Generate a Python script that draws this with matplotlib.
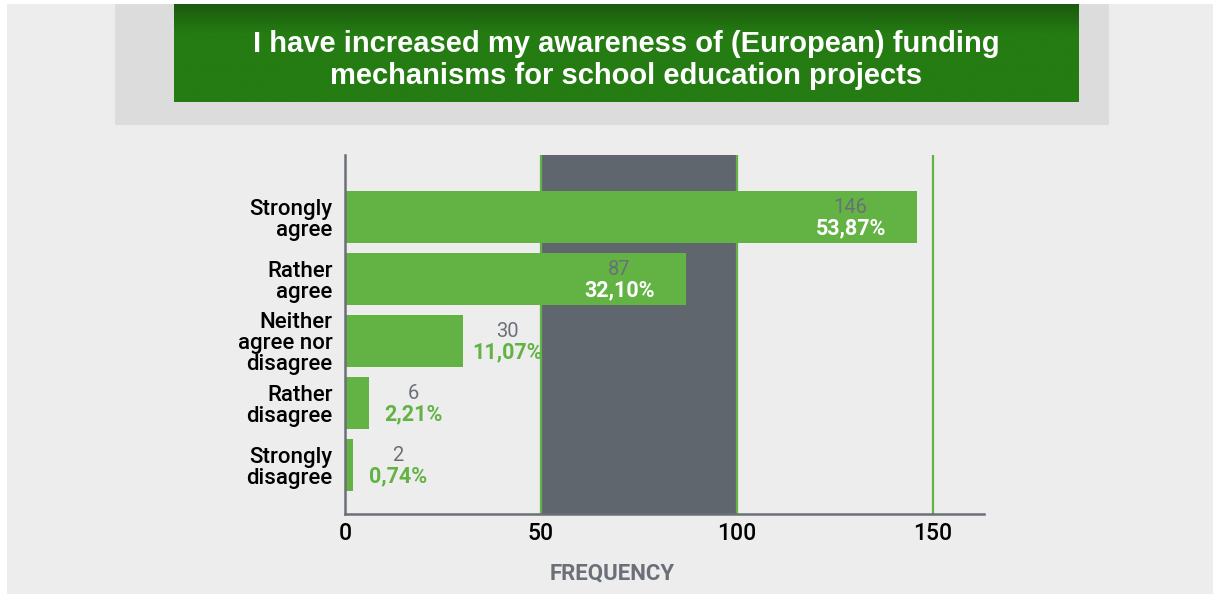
import numpy as np
import matplotlib
matplotlib.use('Agg')
import matplotlib.pyplot as plt
from matplotlib.patches import Rectangle

plt.rcParams['font.family'] = ['Roboto', 'DejaVu Sans']

# data
categories = ['Strongly\nagree', 'Rather\nagree', 'Neither\nagree nor\ndisagree',
              'Rather\ndisagree', 'Strongly\ndisagree']
counts = [146, 87, 30, 6, 2]
percents = ['53,87%', '32,10%', '11,07%', '2,21%', '0,74%']
xticks = [0, 50, 100, 150]
title = 'I have increased my awareness of (European) funding\nmechanisms for school education projects'

green = '#62b344'
grey = '#6b7078'
band = '#5f666d'

W, H = 1213, 594
fig = plt.figure(figsize=(W / 100, H / 100), dpi=100, facecolor='white')

def px_rect(x0, y0, x1, y1, color, z=-10):
    # rectangle given in pixel coords measured from the top left
    fig.patches.append(Rectangle((x0 / W, 1 - y1 / H), (x1 - x0) / W, (y1 - y0) / H,
                                 transform=fig.transFigure, color=color, zorder=z, lw=0))

px_rect(7, 4, W + 2, H + 2, '#ededed')
px_rect(115, 4, 1109, 125, '#dcdcdc', z=-9)

# green title box with a slight gradient at the top
tax = fig.add_axes([174 / W, 1 - 102 / H, (1079 - 174) / W, 98 / H])
grad = np.linspace(0, 1, 100).reshape(-1, 1)
c_top = np.array([0x1b, 0x5a, 0x0e]) / 255
c_mid = np.array([0x24, 0x7c, 0x12]) / 255
w = np.clip(grad / 0.3, 0, 1)
img = c_top * (1 - w) + c_mid * w
tax.imshow(img[:, None, :].repeat(2, axis=1), aspect='auto', extent=[0, 1, 0, 1], origin='upper')
tax.set_axis_off()
tax.text(0.5, 0.43, title, ha='center', va='center', color='white', fontsize=21,
         fontweight='bold', family=['Liberation Sans', 'DejaVu Sans'], linespacing=1.16)

# main chart
ax = fig.add_axes([345 / W, 1 - 514 / H, (984 - 345) / W, (514 - 155) / H])
ax.set_facecolor('none')
y = np.arange(len(categories))

ax.axvspan(50, 100, ymin=-0.008, color=band, zorder=1, lw=0)
for v in xticks[1:]:
    ax.axvline(v, color=green, lw=1.6, zorder=2)
ax.barh(y, counts, height=0.84, color=green, zorder=3)

for yi, c, p in zip(y, counts, percents):
    if c > 50:
        xc = c - 17
        pcol = 'white'
    else:
        xc = c + 11.5
        pcol = green
    ax.text(xc, yi - 0.16, str(c), ha='center', va='center', color=grey, fontsize=14.5, zorder=4)
    ax.text(xc, yi + 0.18, p, ha='center', va='center', color=pcol, fontsize=15.5,
            fontweight='bold', zorder=4)

ax.set_xlim(0, 163)
ax.set_ylim(4.79, -1.0)
ax.set_xticks(xticks)
ax.set_xticklabels([str(t) for t in xticks], fontsize=16.5, fontweight='medium')
ax.set_yticks(y)
ax.set_yticklabels(categories, fontsize=16, fontweight='medium', linespacing=1.0)
ax.tick_params(length=0, colors='black')
ax.tick_params(axis='x', pad=6)
ax.tick_params(axis='y', pad=9)
for s in ['top', 'right']:
    ax.spines[s].set_visible(False)
for s in ['left', 'bottom']:
    ax.spines[s].set_color(grey)
    ax.spines[s].set_linewidth(1.8)
    ax.spines[s].set_zorder(5)

ax.set_xlabel('FREQUENCY', color=grey, fontsize=16, fontweight='bold')
ax.xaxis.set_label_coords((612 - 345) / (984 - 345), -0.135)

fig.savefig('out.png', dpi=100, facecolor=fig.get_facecolor())
